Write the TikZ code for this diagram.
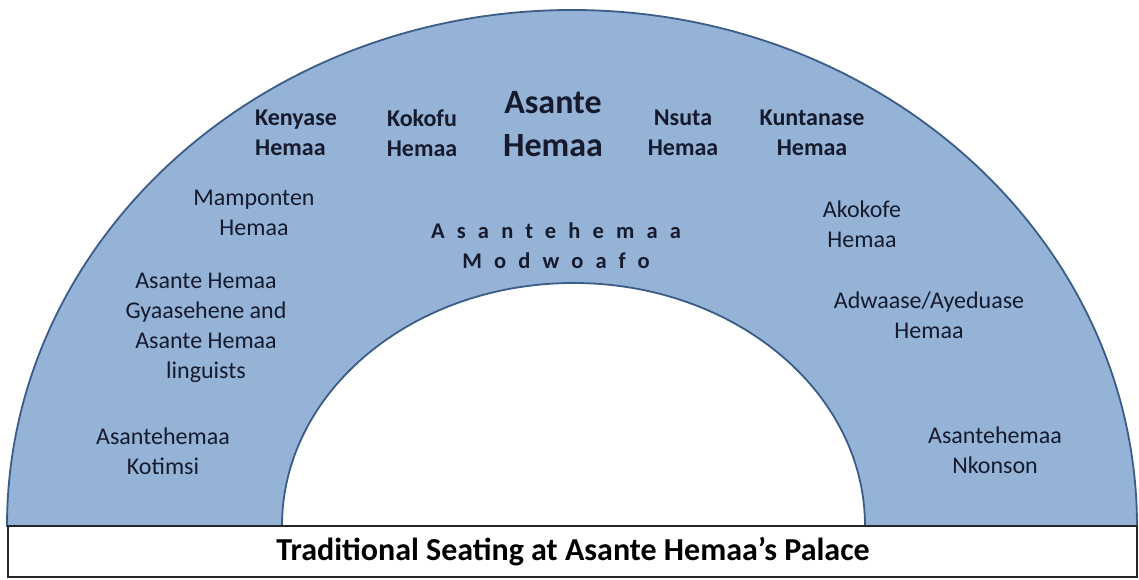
\documentclass[tikz,border=0pt]{standalone}
\usepackage{fontspec}
\setmainfont{Carlito}
\definecolor{seatfill}{RGB}{149,179,215}
\definecolor{seatline}{RGB}{58,92,135}
\definecolor{txt}{RGB}{22,26,44}
\tikzset{
  seat/.style={text=txt, align=center, inner sep=0pt, font=\fontsize{24}{30}\selectfont},
  seatbold/.style={seat, font=\fontsize{24}{30}\selectfont\bfseries},
  queen/.style={seat, font=\fontsize{34}{43}\selectfont\bfseries},
  spaced/.style={seat, font=\fontsize{22.5}{30}\selectfont\bfseries\addfontfeature{LetterSpace=54}},
  caption/.style={text=black, inner sep=0pt, font=\fontsize{32}{36}\selectfont\bfseries}
}
\begin{document}
\begin{tikzpicture}[x=1pt,y=1pt]
\useasboundingbox (0,0) rectangle (1139,579);

% half ring of seats
\filldraw[fill=seatfill, draw=seatline, line width=1.8pt]
  (7,53) arc[start angle=180, end angle=0, x radius=565, y radius=516]
  -- (865,53) arc[start angle=0, end angle=180, x radius=291.5, y radius=243]
  -- cycle;

% caption bar
\draw[fill=white, draw=black!85, line width=1.3pt] (8,53) rectangle (1137,2);
\node[caption] (cap) at (573,27) {Traditional Seating at Asante Hemaa’s Palace};

% front row
\node[seatbold, anchor=west, align=left] (kenyase) at (255,446) {Kenyase\\Hemaa};
\node[seatbold] (kokofu) at (422,446) {Kokofu\\Hemaa};
\node[queen] (asante) at (553,455) {Asante\\Hemaa};
\node[seatbold] (nsuta) at (683,446) {Nsuta\\Hemaa};
\node[seatbold] (kuntanase) at (812,446) {Kuntanase\\Hemaa};

% middle
\node[spaced] (modwoafo) at (556,333) {Asantehemaa\\Modwoafo};

% left side
\node[seat] (mamponten) at (254,366) {Mamponten\\Hemaa};
\node[seat] (gyaase) at (206,251) {Asante Hemaa\\Gyaasehene and\\Asante Hemaa\\linguists};
\node[seat] (kotimsi) at (163,128) {Asantehemaa\\Kotimsi};

% right side
\node[seat] (akokofe) at (862,355) {Akokofe\\Hemaa};
\node[seat] (adwaase) at (929,264) {Adwaase/Ayeduase\\Hemaa};
\node[seat] (nkonson) at (995,129) {Asantehemaa\\Nkonson};
\end{tikzpicture}
\end{document}
